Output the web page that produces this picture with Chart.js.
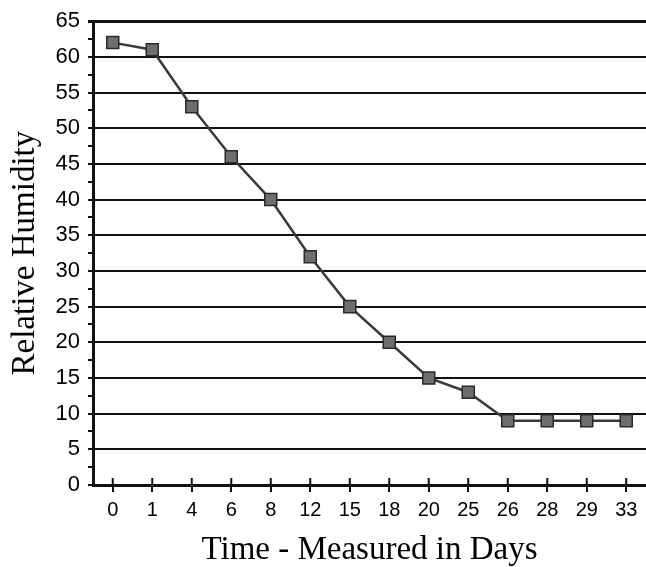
<!DOCTYPE html>
<html>
<head>
<meta charset="utf-8">
<script src="https://cdn.jsdelivr.net/npm/chart.js@4"></script>
<style>
  html, body { margin: 0; padding: 0; background: #fff; overflow: hidden; }
  #wrap { position: relative; width: 646px; height: 567px; }
  canvas { display: block; }
</style>
</head>
<body>
<div id="wrap"><canvas id="chartCanvas"></canvas></div>
<script>
// days on the x axis (shown as evenly spaced categories)
const days = ["0", "1", "4", "6", "8", "12", "15", "18", "20", "25", "26", "28", "29", "33"];
const humidity = [62, 61, 53, 46, 40, 32, 25, 20, 15, 13, 9, 9, 9, 9];

// short tick marks above the x axis line
const crossTicks = {
  id: "crossTicks",
  afterDraw(chart) {
    const ctx = chart.ctx;
    const x = chart.scales.x;
    const bottom = chart.chartArea.bottom;
    ctx.save();
    ctx.strokeStyle = "#111";
    ctx.lineWidth = 2;
    days.forEach((d, i) => {
      const px = x.getPixelForValue(i);
      ctx.beginPath();
      ctx.moveTo(px, bottom);
      ctx.lineTo(px, bottom - 7);
      ctx.stroke();
    });
    ctx.restore();
  }
};

const ctx = document.getElementById("chartCanvas").getContext("2d");

new Chart(ctx, {
  type: "line",
  data: {
    labels: days,
    datasets: [{
      data: humidity,
      borderColor: "#3a3a3a",
      borderWidth: 2.5,
      pointStyle: "rect",
      pointRadius: 8.5,
      pointBackgroundColor: "#6e6e6e",
      pointBorderColor: "#2a2a2a",
      pointBorderWidth: 1.5,
      tension: 0,
    }],
  },
  options: {
    responsive: true,
    maintainAspectRatio: false,
    animation: false,
    layout: { autoPadding: false, padding: { top: 16, right: 0, left: 0, bottom: 0 } },
    plugins: {
      legend: { display: false },
      tooltip: { enabled: false },
    },
    scales: {
      x: {
        offset: true,
        afterFit: s => { s.height = 82; s.paddingRight = 0; s.paddingLeft = 0; },
        grid: {
          offset: false,
          drawOnChartArea: false,
          tickLength: 7,
          color: "#111",
          lineWidth: 2,
        },
        border: { color: "#111", width: 3 },
        ticks: {
          color: "#000",
          padding: 6,
          font: { family: "Liberation Sans", size: 20 },
          maxRotation: 0,
          autoSkip: false,
        },
        title: {
          display: true,
          text: "Time - Measured in Days",
          color: "#000",
          font: { family: "Liberation Serif", size: 33, lineHeight: 1 },
          padding: { top: 10, bottom: 0 },
        },
      },
      y: {
        min: 0,
        max: 65,
        afterFit: s => { s.width = 93; },
        grid: {
          tickLength: 5,
          color: c => (c.tick && c.tick.value % 5 === 0 ? "#111" : "rgba(0,0,0,0)"),
          tickColor: "#111",
          lineWidth: c => (c.tick && c.tick.value === 65 ? 3 : 2),
        },
        border: { color: "#111", width: 3 },
        ticks: {
          stepSize: 2.5,
          autoSkip: false,
          color: "#000",
          padding: 8,
          font: { family: "Liberation Sans", size: 22 },
          callback: v => (v % 5 === 0 ? v : ""),
        },
        title: {
          display: true,
          text: "Relative Humidity",
          color: "#000",
          font: { family: "Liberation Serif", size: 33, lineHeight: 1 },
          padding: { top: 9, bottom: 0 },
        },
      },
    },
  },
  plugins: [crossTicks],
});
</script>
</body>
</html>
